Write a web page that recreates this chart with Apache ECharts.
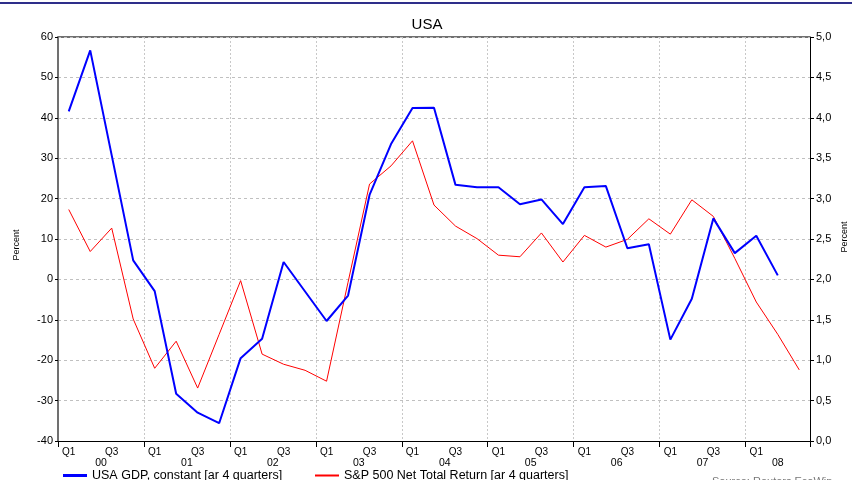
<!DOCTYPE html>
<html lang="en">
<head>
    <meta charset="UTF-8">
    <title>USA</title>
    <style>
        html, body { margin: 0; padding: 0; background: #fff; }
    </style>
</head>
<body>
<div id="main" style="width: 854px;height:480px;"></div>
<script type="text/javascript" src="https://cdn.jsdelivr.net/npm/echarts@6/dist/echarts.min.js"></script>
<script type="text/javascript">
    // quarters 2000Q1 .. 2008Q3
    var years = ['00', '01', '02', '03', '04', '05', '06', '07', '08'];
    var quarters = [];
    for (var y = 0; y < years.length; y++) {
        for (var q = 1; q <= 4; q++) {
            if (quarters.length < 35) quarters.push(years[y] + 'Q' + q);
        }
    }
    var yearPos = [2, 6, 10, 14, 18, 22, 26, 30, 33.5];

    var gdp = [41.6, 56.7, 30.7, 4.7, -2.9, -28.3, -33.0, -35.6,
        -19.5, -14.7, 4.3, -3.0, -10.3, -4.0, 20.9, 33.5,
        42.4, 42.5, 23.4, 22.8, 22.8, 18.6, 19.8, 13.7,
        22.8, 23.1, 7.7, 8.7, -14.9, -4.8, 15.1, 6.5,
        10.8, 1.0];
    var sp500 = [17.3, 6.9, 12.7, -9.8, -22.0, -15.3, -26.9, -13.6,
        -0.3, -18.5, -21.0, -22.5, -25.2, -0.7, 23.6, 28.1,
        34.3, 18.4, 13.2, 10.1, 6.0, 5.6, 11.5, 4.3,
        10.9, 8.0, 9.9, 15.0, 11.2, 19.7, 15.6, 5.2,
        -5.6, -13.6, -22.4];

    var font = 'Liberation Sans, Arial, sans-serif';
    var myChart = echarts.init(document.getElementById('main'));
    var option = {
        animation: false,
        title: {
            text: 'USA',
            left: 'center',
            top: 12,
            textStyle: {fontFamily: font, fontSize: 15, fontWeight: 'normal', color: '#000'}
        },
        legend: [{
            left: 58, top: 464, itemWidth: 24, itemHeight: 3, icon: 'rect',
            data: ['USA GDP, constant [ar 4 quarters]'],
            textStyle: {fontFamily: font, fontSize: 12.5, color: '#000'}
        }, {
            left: 310, top: 464, itemWidth: 24, itemHeight: 2, icon: 'rect',
            data: ['S&P 500 Net Total Return [ar 4 quarters]'],
            textStyle: {fontFamily: font, fontSize: 12.5, color: '#000'}
        }],
        grid: {left: 58, right: 44, top: 37, bottom: 39},
        xAxis: [{
            type: 'category',
            data: quarters,
            boundaryGap: true,
            axisLine: {onZero: false, lineStyle: {color: '#000', width: 1}},
            axisTick: {
                alignWithLabel: true, length: 3,
                interval: function (i) { return i % 2 === 0; },
                lineStyle: {color: '#000'}
            },
            axisLabel: {
                interval: 0, margin: 6,
                fontFamily: font, fontSize: 10, color: '#000',
                formatter: function (v, i) {
                    var q = v.slice(2);
                    if (i >= 33) return '';
                    return (q === 'Q1' || q === 'Q3') ? q : '';
                }
            },
            splitLine: {show: false}
        }, {
            type: 'value',
            min: 0, max: 35, interval: 4,
            position: 'bottom',
            axisLine: {show: false, onZero: false},
            axisTick: {show: true, length: 6, lineStyle: {color: '#000'}},
            axisLabel: {
                customValues: yearPos, margin: 17,
                fontFamily: font, fontSize: 10.5, color: '#000',
                formatter: function (v) {
                    var i = yearPos.indexOf(v);
                    return i >= 0 ? years[i] : '';
                }
            },
            splitLine: {show: true, lineStyle: {color: '#c8c8c8', type: [2, 2]}}
        }],
        yAxis: [{
            type: 'value',
            min: -40, max: 60, interval: 10,
            position: 'left',
            axisLine: {show: true, lineStyle: {color: '#707070', width: 2}},
            axisTick: {show: true, length: 3, lineStyle: {color: '#000'}},
            axisLabel: {fontFamily: font, fontSize: 11, color: '#000', margin: 5},
            splitLine: {lineStyle: {color: '#c0c0c0', type: [3, 3]}}
        }, {
            type: 'value',
            min: 0, max: 5, interval: 0.5,
            position: 'right',
            axisLine: {show: true, lineStyle: {color: '#000', width: 1}},
            axisTick: {show: true, length: 4, lineStyle: {color: '#000'}},
            axisLabel: {
                fontFamily: font, fontSize: 11, color: '#000', margin: 6,
                formatter: function (v) { return v.toFixed(1).replace('.', ','); }
            },
            splitLine: {show: false}
        }],
        series: [{
            name: 'USA GDP, constant [ar 4 quarters]',
            type: 'line',
            data: gdp,
            symbol: 'none',
            lineStyle: {color: '#0000ff', width: 2},
            itemStyle: {color: '#0000ff'},
            z: 3
        }, {
            name: 'S&P 500 Net Total Return [ar 4 quarters]',
            type: 'line',
            data: sp500,
            symbol: 'none',
            lineStyle: {color: '#ff0000', width: 1},
            itemStyle: {color: '#ff0000'},
            z: 2
        }],
        graphic: [{
            type: 'rect',
            shape: {x: 0, y: 2, width: 852, height: 2},
            style: {fill: '#2e2e8a'}
        }, {
            type: 'line',
            shape: {x1: 58, y1: 37, x2: 810, y2: 37},
            style: {stroke: '#707070', lineWidth: 2}
        }, {
            type: 'text',
            x: 17, y: 245, rotation: Math.PI / 2,
            style: {text: 'Percent', fontFamily: font, fontSize: 9, fill: '#000', align: 'center', verticalAlign: 'middle'}
        }, {
            type: 'text',
            x: 845, y: 237, rotation: Math.PI / 2,
            style: {text: 'Percent', fontFamily: font, fontSize: 9, fill: '#000', align: 'center', verticalAlign: 'middle'}
        }, {
            type: 'text',
            x: 712, y: 476,
            style: {text: 'Source: Reuters EcoWin', fontFamily: font, fontSize: 11, fill: '#777'}
        }]
    };
    myChart.setOption(option);
</script>
</body>
</html>
